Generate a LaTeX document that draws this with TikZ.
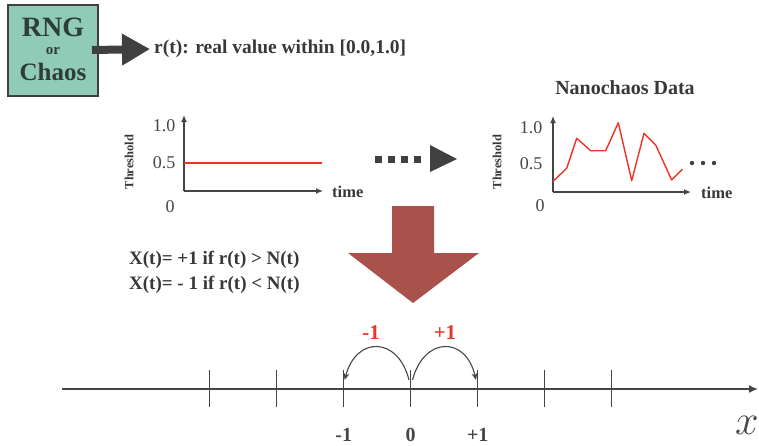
\documentclass[tikz,border=0pt]{standalone}
\usepackage{fontspec}
\setmainfont{Liberation Serif}
\usetikzlibrary{arrows.meta}
\definecolor{txt}{HTML}{383838}
\definecolor{boxfill}{HTML}{8FCBB6}
\definecolor{boxtxt}{HTML}{2F3D37}
\definecolor{redl}{HTML}{EE3224}
\definecolor{bigred}{HTML}{A9524C}
\definecolor{dgray}{HTML}{404040}
\definecolor{axgray}{HTML}{454545}
\begin{document}
\begin{tikzpicture}[x=1pt,y=-1pt,
  fs/.style={font=\fontsize{#1}{#1}\selectfont},
  lbl/.style={text=txt, inner sep=0pt},
  axis/.style={draw=axgray, line width=1.3pt, -{Latex[length=7pt,width=6pt]}},
  redline/.style={draw=redl, line width=1.4pt, line join=round},
  tick/.style={draw=axgray, line width=1.1pt},
  hop/.style={draw=axgray, line width=1.1pt, -{Stealth[length=7pt,width=6pt]}}]
\useasboundingbox (0,0) rectangle (759,445);

% RNG box
\node[draw=dgray, line width=1.3pt, fill=boxfill, minimum width=90pt, minimum height=91pt, inner sep=0pt] (rng) at (53,50.5) {};
\node[text=boxtxt, inner sep=0pt, fs=28] (rngA) at (53,27) {\bfseries RNG};
\node[text=boxtxt, inner sep=0pt, fs=15] (rngB) at (53,51) {\bfseries or};
\node[text=boxtxt, inner sep=0pt, fs=25] (rngC) at (53,72) {\bfseries Chaos};
\node[lbl, anchor=west, fs=19.5] (rt) at (154,49) {\bfseries r(t): real value within [0.0,1.0]};
\draw[draw=dgray, line width=8pt, -{Triangle[length=28pt,width=30pt]}, shorten >=4pt] (92,50) -- (rt.west);

% left chart
\coordinate (lo) at (184,191);
\coordinate (ltop) at (184,115);
\coordinate (lright) at (323,191);
\draw[axis] (lo) -- (ltop);
\draw[axis] (lo) -- (lright);
\draw[redline] (184,163) -- (322,163);
\node[lbl, fs=18, text=axgray] (l10) at (164,126) {1.0};
\node[lbl, fs=18, text=axgray] (l05) at (164,163) {0.5};
\node[lbl, fs=18, text=axgray] (l0) at (170,207) {0};
\node[lbl, fs=16.5, anchor=west] (ltime) at (332,192) {\bfseries time};
\node[lbl, fs=12.5, rotate=90] (lthr) at (129,162) {\bfseries Threshold};

% dashed arrow
\foreach \xx [count=\i] in {375,388,401,414} {
  \node[fill=dgray, minimum size=7pt, inner sep=0pt] (dsh\i) at (\xx+3.5,159) {};
}
\fill[dgray] (430,145) -- (457,159) -- (430,172) -- cycle;

% right chart
\node[lbl, fs=20] (title) at (625,88) {\bfseries Nanochaos Data};
\coordinate (ro) at (553,192);
\coordinate (rtop) at (553,116);
\coordinate (rright) at (691,192);
\draw[axis] (ro) -- (rtop);
\draw[axis] (ro) -- (rright);
\draw[redline] (552.7,181.7) -- (566.7,168.3) -- (576.7,138.3) -- (590.7,150.7) -- (605.7,150.7) -- (618.3,122.7) -- (631.7,180.7) -- (644,133.3) -- (655.7,145) -- (671.7,180) -- (682.3,169.3);
\node[lbl, fs=18, text=axgray] (r10) at (531,128) {1.0};
\node[lbl, fs=18, text=axgray] (r05) at (531,164) {0.5};
\node[lbl, fs=18, text=axgray] (r0) at (540,206) {0};
\node[lbl, fs=16.5, anchor=west] (rtime) at (701,193) {\bfseries time};
\node[lbl, fs=12.5, rotate=90] (rthr) at (497,162) {\bfseries Threshold};
\foreach \xx [count=\i] in {692,703,714} {
  \fill[dgray] (\xx,163) circle (2.2pt);
}

% big red arrow
\fill[bigred] (392,206) -- (434,206) -- (434,253) -- (479,253) -- (413,303) -- (348,253) -- (392,253) -- cycle;

% rule text
\node[lbl, fs=19, anchor=west] (ruleA) at (129,260) {\bfseries X(t)= +1 if r(t) > N(t)};
\node[lbl, fs=19, anchor=west] (ruleB) at (129,285) {\bfseries X(t)= - 1 if r(t) < N(t)};

% number line
\coordinate (nl0) at (62,389);
\coordinate (nl1) at (758,389);
\draw[draw=axgray, line width=1.6pt, -{Latex[length=9pt,width=8pt]}] (nl0) -- (nl1);
\foreach \k [count=\i] in {-3,-2,-1,0,1,2,3} {
  \coordinate (t\i) at (410.7+\k*67,389);
  \draw[tick] (410.7+\k*67,370) -- (410.7+\k*67,407);
}
\coordinate (m1top) at (344.7,380);
\coordinate (z1top) at (409,380);
\coordinate (z2top) at (412.5,380);
\coordinate (p1top) at (476,380);
\draw[hop] (z1top) .. controls (398,336) and (356,336) .. (m1top);
\draw[hop] (z2top) .. controls (424,336) and (466,336) .. (p1top);
\node[lbl, fs=21, text=redl] (hm) at (371,333) {\bfseries -1};
\node[lbl, fs=21, text=redl] (hp) at (445,333) {\bfseries +1};
\node[lbl, fs=20, text=axgray] (lm) at (343.7,435) {\bfseries -1};
\node[lbl, fs=20, text=axgray] (lz) at (410.7,435) {\bfseries 0};
\node[lbl, fs=20, text=axgray] (lp) at (477.7,435) {\bfseries +1};
\node[lbl, fs=24, text=axgray, scale=1.7] (xx) at (747,425) {$x$};
\end{tikzpicture}
\end{document}
